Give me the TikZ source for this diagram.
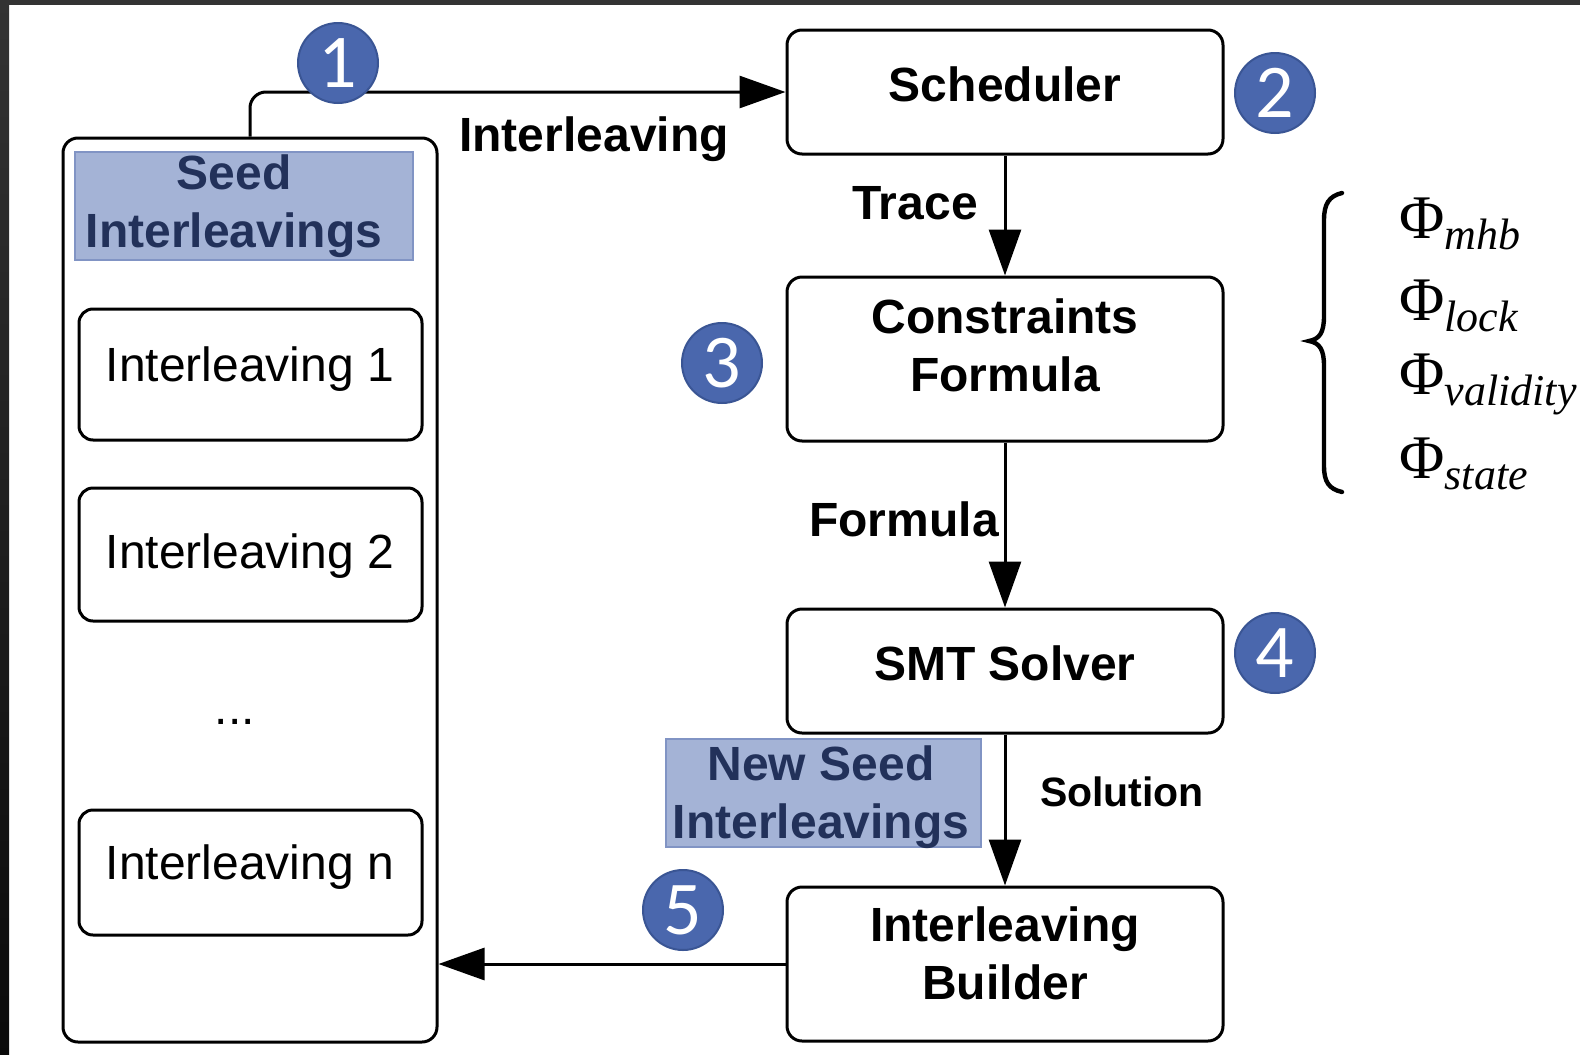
\documentclass[tikz,border=0pt]{standalone}
\usepackage{fontspec}
\setmainfont{Liberation Sans}
\newfontfamily\tnr{Liberation Serif}
\newfontfamily\calib{Carlito}
\usetikzlibrary{arrows.meta,shadings}
\definecolor{numblue}{HTML}{4A67AD}
\definecolor{numedge}{HTML}{3A5594}
\definecolor{seedfill}{HTML}{A4B3D6}
\definecolor{seededge}{HTML}{8194C4}
\definecolor{seedtext}{HTML}{22315A}
\begin{document}
\begin{tikzpicture}[x=0.5pt,y=-0.5pt,
  box/.style={draw,line width=1.5pt,rounded corners=7.5pt,minimum width=218pt,inner sep=0pt},
  ibox/.style={draw,line width=1.5pt,rounded corners=7pt,minimum width=171.5pt,inner sep=0pt},
  btext/.style={font=\bfseries\fontsize{24}{29}\selectfont,align=center,inner sep=0pt},
  rtext/.style={font=\fontsize{24}{29}\selectfont,inner sep=0pt},
  seed/.style={draw=seededge,line width=1pt,fill=seedfill,inner sep=0pt,minimum height=54pt},
  seedtxt/.style={font=\bfseries\fontsize{24}{29}\selectfont,text=seedtext,align=center,inner sep=0pt},
  num/.style={circle,fill=numblue,draw=numedge,line width=1pt,minimum size=40pt,inner sep=0pt,text=white,font=\calib\fontsize{38}{38}\selectfont},
  arr/.style={line width=1.5pt,-{Triangle[length=23pt,width=16pt]}},
  phi/.style={anchor=base west,inner sep=0pt,font=\tnr\fontsize{31}{31}\selectfont}
]
\useasboundingbox (0,0) rectangle (1580,1055);
\fill[white] (0,0) rectangle (1580,1055);
\shade[top color=black!80,bottom color=black!96] (0,0) rectangle (9,1055);
\fill[black!80] (0,0) rectangle (1580,5);

% left container
\node[draw,line width=1.5pt,rounded corners=7.5pt,minimum width=187pt,minimum height=452pt,inner sep=0pt] (big) at (250,590) {};
\node[seed,minimum width=169pt] (seedbox) at (244,206) {};
\node[seedtxt] (seedlbl) at (234,206) {Seed\\Interleavings};

\node[ibox,minimum height=65.5pt] (i1) at (250.5,374.5) {};
\node[rtext] (t1) at (250,369) {Interleaving 1};
\node[ibox,minimum height=66.5pt] (i2) at (250.5,554.5) {};
\node[rtext] (t2) at (250,556) {Interleaving 2};
\node[rtext] (dots) at (235,722) {...};
\node[ibox,minimum height=62.5pt] (in) at (250.5,872.5) {};
\node[rtext] (tn) at (250,867) {Interleaving n};

% right column
\node[box,minimum height=62pt] (sched) at (1005,92) {};
\node[btext] (schedt) at (1005,84) {Scheduler};
\node[box,minimum height=82pt] (cons) at (1005,359) {};
\node[btext] (const) at (1005,345) {Constraints\\Formula};
\node[box,minimum height=62pt] (smt) at (1005,671) {};
\node[btext] (smtt) at (1005,663) {SMT Solver};
\node[box,minimum height=77pt] (build) at (1005,964) {};
\node[btext] (buildt) at (1005,953) {Interleaving\\Builder};

\node[seed,minimum width=157.5pt] (nseed) at (823.5,793) {};
\node[seedtxt] (nseedt) at (821,797) {New Seed\\Interleavings};

% connectors
\draw[arr,rounded corners=8pt] (big.north) |- (sched.west);
\draw[arr] (sched.south) -- (cons.north);
\draw[arr] (cons.south) -- (smt.north);
\draw[arr] (smt.south) -- (build.north);
\draw[arr] (build.west) -- (build.west -| big.east);

% labels
\node[btext] (lint) at (594,139) {Interleaving};
\node[btext] (ltrace) at (915,203) {Trace};
\node[btext] (lform) at (904,519) {Formula};
\node[btext,font=\bfseries\fontsize{20.5}{24}\selectfont] (lsol) at (1122,792) {Solution};

% numbered circles
\node[num] (n1) at (338,63) {1};
\node[num] (n2) at (1275,93) {2};
\node[num] (n3) at (722,363) {3};
\node[num] (n4) at (1275,653) {4};
\node[num] (n5) at (683,910) {5};

% brace
\draw[line width=2.2pt,line cap=round] (1342,193) .. controls (1329,196) and (1324,204) .. (1324,220) -- (1324,316) .. controls (1324,332) and (1320,339) .. (1309,341) .. controls (1320,343) and (1324,350) .. (1324,366) -- (1324,466) .. controls (1324,482) and (1329,489) .. (1342,492);

\node[phi] (p1) at (1399,238) {Φ\raisebox{-5.5pt}{\fontsize{22}{22}\selectfont\itshape mhb}};
\node[phi] (p2) at (1399,320) {Φ\raisebox{-5.5pt}{\fontsize{22}{22}\selectfont\itshape lock}};
\node[phi] (p3) at (1399,394) {Φ\raisebox{-5.5pt}{\fontsize{22}{22}\selectfont\itshape validity}};
\node[phi] (p4) at (1399,478) {Φ\raisebox{-5.5pt}{\fontsize{22}{22}\selectfont\itshape state}};
\end{tikzpicture}
\end{document}
